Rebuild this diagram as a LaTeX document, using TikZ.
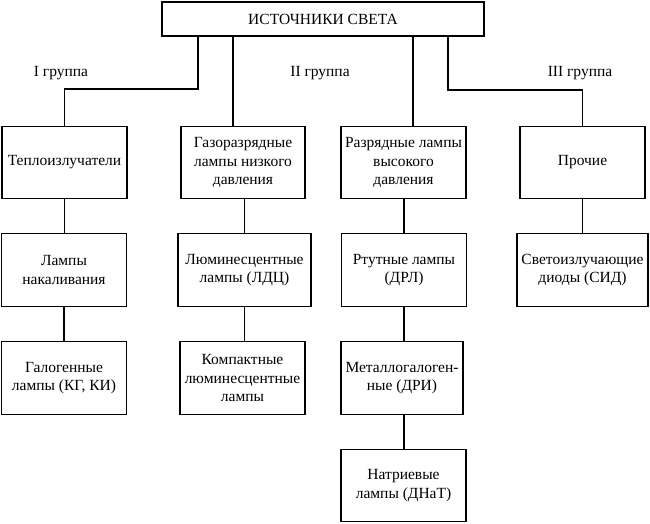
\documentclass[tikz,border=0pt]{standalone}
\usepackage{fontspec}
\setmainfont{Liberation Serif}
\begin{document}
\begin{tikzpicture}[x=0.8pt,y=-0.8pt,line width=0.9pt,
	font=\fontsize{12.4}{14.8}\selectfont,
	khoi/.style={draw,align=center,inner sep=2pt,minimum width=100pt,
		minimum height=58pt}]
	\useasboundingbox (0,0) rectangle (650,523);
	\path(323,19)node[khoi,minimum width=257.6pt,minimum height=27.2pt](a){ИСТОЧНИКИ СВЕТА}
	(64.5,162.5)node[khoi](b){Теплоизлучатели}
	(243,162.5)node[khoi,minimum width=99.2pt](c){Газоразрядные\\лампы низкого\\давления}
	(403.5,162.5)node[khoi](d){Разрядные лампы\\высокого\\давления}
	(582.5,162.5)node[khoi](e){Прочие}
	;
	\path (64,270)node[khoi](b1){Лампы\\накаливания}
	(244.5,270)node[khoi,minimum width=106.4pt](c1){Люминесцентные\\лампы (ЛДЦ)}
	(404,270)node[khoi](d1){Ртутные лампы\\(ДРЛ)}
	(582.5,270)node[khoi,minimum width=104.8pt](e1){Светоизлучающие\\диоды (СИД)}
	;
	\path (64,378)node[khoi](b11){Галогенные\\лампы (КГ, КИ)}
	(242.5,378)node[khoi](c11){Компактные\\люминесцентные\\лампы}
	(402,378)node[khoi,minimum width=97.6pt](d11){Металлогалоген-\\ные (ДРИ)}
	;
	\path (403.5,485.5)node[khoi](d111){Натриевые\\лампы (ДНаТ)};
	\path (61,73)node(g1){I группа}
	(320,73)node(g2){II группа}
	(580,73)node(g3){III группа};
	% nhanh tu khoi tren cung
	\coordinate (k1) at (198,89);
	\coordinate (k2) at (233,89);
	\coordinate (k3) at (413,89);
	\coordinate (k4) at (448,90);
	\draw (a.south -| k1)--(k1) -| (b.north);
	\draw (a.south -| k2)--(c.north -| k2);
	\draw (a.south -| k3)--(d.north -| k3);
	\draw (a.south -| k4)--(k4) -| (e.north);
	% cac cot
	\draw (b.south)--(b.south |- b1.north);
	\draw (b1.south)--(b1.south |- b11.north);
	\draw (c1.north)--(c1.north |- c.south);
	\draw (c1.south)--(c1.south |- c11.north);
	\draw (d1.north)--(d1.north |- d.south);
	\draw (d1.south)--(d1.south |- d11.north);
	\draw (d1.south |- d11.south)--(d1.south |- d111.north);
	\draw (e.south)--(e.south |- e1.north);
\end{tikzpicture}
\end{document}
